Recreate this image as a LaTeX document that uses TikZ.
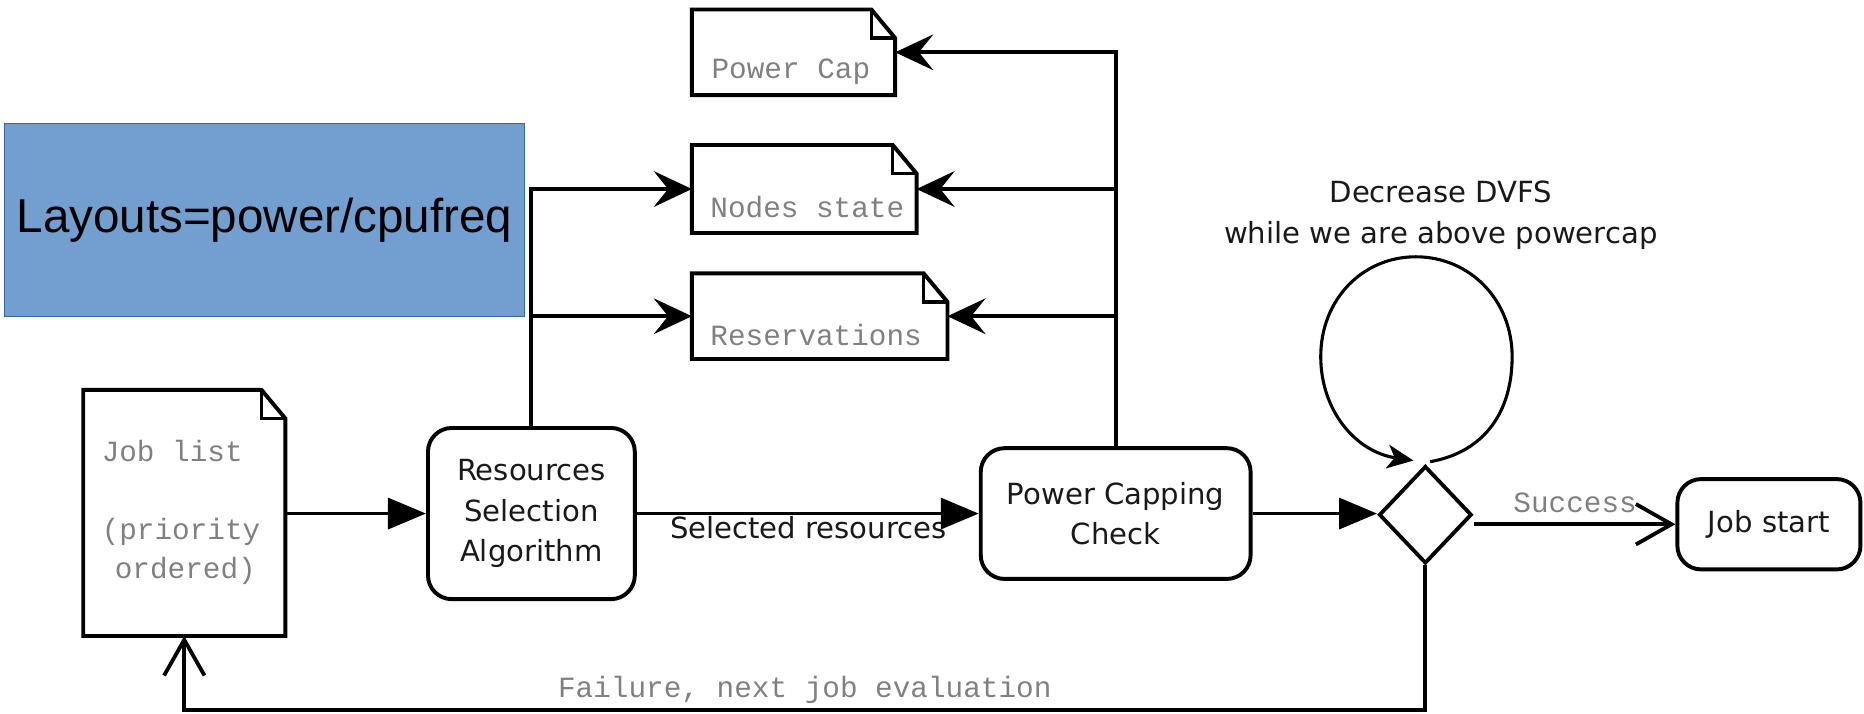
\documentclass[tikz,border=0pt]{standalone}
\usepackage{fontspec}
\setmainfont{DejaVu Sans}
\newfontfamily\arialf{Liberation Sans}
\newfontfamily\monof{Liberation Mono}
\usetikzlibrary{arrows.meta,shapes.geometric,calc}
\definecolor{boxblue}{HTML}{729FCF}
\definecolor{boxblueline}{HTML}{3465A4}
\definecolor{labelgray}{HTML}{808080}
\newcommand\docdraw[1]{%
  \draw[line width=3.3pt] (#1.south west) |- ($(#1.north east)+(-20,0)$) -- ($(#1.north east)+(0,24)$) -- (#1.south east) -- cycle;
  \draw[line width=2.6pt] ($(#1.north east)+(-20,0)$) |- ($(#1.north east)+(0,24)$);}
\begin{document}
\begin{tikzpicture}[x=1pt,y=-1pt,line width=3.2pt,
  proc/.style={draw, line width=3.3pt, rounded corners=20pt, align=center, inner sep=0pt,
    font=\fontsize{24.5}{34}\selectfont, text=black!90},
  docbox/.style={inner sep=0pt, outer sep=0pt},
  mono/.style={font=\monof\fontsize{24.7}{33}\selectfont, text=labelgray, inner sep=0pt},
  sanslabel/.style={font=\fontsize{24.5}{34}\selectfont, text=black!90, inner sep=0pt, align=center},
  tri/.style={-{Triangle[length=32pt,width=26pt]}},
  barb/.style={-{Stealth[length=32pt,width=30pt,inset=12pt]}},
  openv/.style={-{Straight Barb[length=30pt,width=34pt]}},
]
\useasboundingbox (0,0) rectangle (1568,600);

% blue label box
\node[rectangle, fill=boxblue, draw=boxblueline, line width=1pt, minimum width=437pt, minimum height=162pt,
  font=\arialf\fontsize{40}{48}\selectfont, text=black, inner sep=0pt] (lay) at (222.5,185) {Layouts=power/cpufreq};

% documents
\node[docbox, minimum width=170pt, minimum height=207pt] (jl) at (155,431.5) {};
\docdraw{jl}
\node[mono, align=left, anchor=west] (jlt) at (84,431) {Job list\\[33pt](priority\\\hspace{11pt}ordered)};

\node[docbox, minimum width=171pt, minimum height=72pt] (pc) at (667.5,44) {};
\docdraw{pc}
\node[mono, anchor=west] (pct) at (597,60) {Power Cap};

\node[docbox, minimum width=189pt, minimum height=74pt] (ns) at (676.5,159) {};
\docdraw{ns}
\node[mono, anchor=west] (nst) at (596,174) {Nodes state};

\node[docbox, minimum width=215pt, minimum height=72pt] (res) at (689.5,266) {};
\docdraw{res}
\node[mono, anchor=west] (rest) at (596,282) {Reservations};

% process boxes
\node[proc, minimum width=174pt, minimum height=144pt] (rsa) at (447,432) {Resources\\Selection\\Algorithm};
\node[proc, minimum width=227pt, minimum height=110pt] (pcc) at (938.5,432) {Power Capping\\Check};
\node[proc, minimum width=154pt, minimum height=76pt] (js) at (1488,441) {Job start};
\node[draw, line width=3.2pt, diamond, inner sep=0pt, minimum width=78pt, minimum height=82pt] (d) at (1199,433) {};

% labels
\node[sanslabel] (sel) at (680,444) {Selected resources};
\node[sanslabel] (dvfs) at (1212,181) {Decrease DVFS\\while we are above powercap};
\node[mono] (succ) at (1325,423) {Success};
\node[mono] (fail) at (677,580) {Failure, next job evaluation};

% connectors
\draw[tri] (jl.east |- rsa.west) -- (rsa.west);
\draw[tri] (rsa.east) -- (pcc.west);
\draw[tri] (pcc.east) -- (pcc.east -| d.west);
\draw[openv] (d.east |- js.west) -- (js.west);
\draw[openv] (d.south) |- ($(jl.south)+(0,62)$) -- (jl.south);

\draw[barb] (pcc.north) |- (pc.east);
\draw[barb] (pcc.north |- ns.east) -- (ns.east);
\draw[barb] (pcc.north |- res.east) -- (res.east);

\draw[barb] (rsa.north) |- (ns.west);
\draw[barb] (rsa.north |- res.west) -- (res.west);

% loop
\draw[line width=2.6pt, -{Stealth[length=22pt,width=20pt,inset=6pt]}]
  ($(d.north)+(4,-2)$) .. controls (1250,380) and (1272,345) .. (1272,300)
  .. controls (1272,252) and (1236,216) .. (1191,216)
  .. controls (1146,216) and (1111,252) .. (1111,300)
  .. controls (1111,345) and (1140,380) .. ($(d.north)+(-10,-3)$);
\end{tikzpicture}
\end{document}
